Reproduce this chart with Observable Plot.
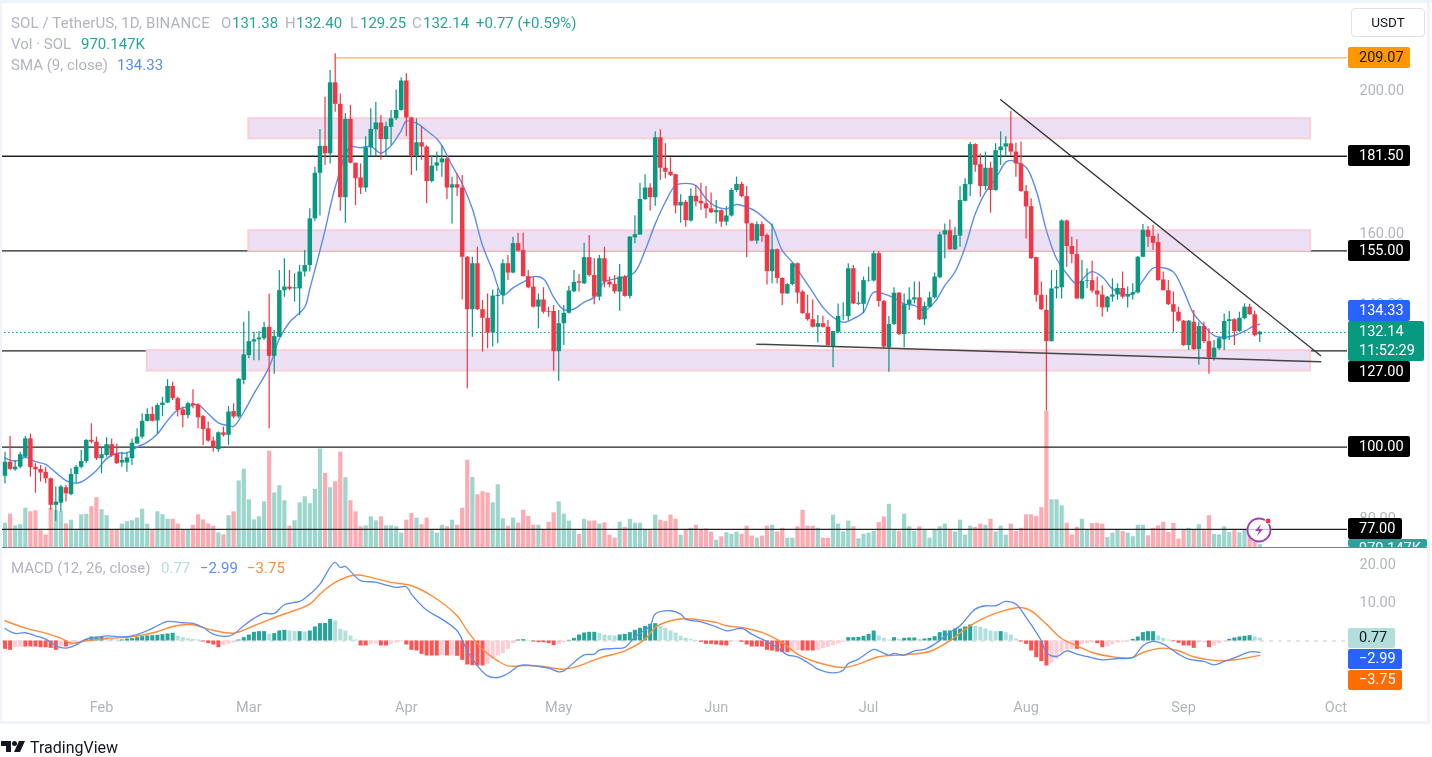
<!DOCTYPE html>
<html><head><meta charset="utf-8">
<script src="https://cdn.jsdelivr.net/npm/d3@7"></script>
<script src="https://cdn.jsdelivr.net/npm/@observablehq/plot@0.6"></script>
<style>
html,body{margin:0;padding:0;background:#fff}
#page{position:relative;width:1432px;height:757px;overflow:hidden;background:#fff;font-family:Roboto,sans-serif;filter:blur(.3px)}
.frame{position:absolute;background:#f0f3fa}
.t{position:absolute;white-space:nowrap;font-size:15px;line-height:18px}
.gray{color:#b2b5be}.green{color:#26a69a}.blue{color:#5b8dee}
.pl{position:absolute;left:1348px;width:62px;height:21px;border-radius:2px;color:#fff;font-size:14.5px;line-height:21px;padding-left:11px;box-sizing:border-box;white-space:nowrap;overflow:hidden}
</style></head><body>
<div id="page"></div>
<script>
const opens=[92.0,95.9,93.8,94.5,97.3,102.4,94.5,93.9,93.1,91.3,
83.9,84.5,88.8,86.9,92.5,94.5,96.1,102.0,101.5,96.9,
97.8,100.8,98.2,95.7,95.7,96.9,101.0,102.9,107.3,109.2,
107.4,111.7,112.4,117.0,113.6,110.5,108.9,112.2,111.9,108.6,
105.2,101.8,99.4,104.1,103.4,110.0,108.5,118.7,125.6,129.4,
130.0,130.3,133.5,125.4,130.7,143.7,144.7,144.2,144.2,148.9,
150.7,163.7,176.4,183.9,181.8,201.6,195.6,169.6,191.4,179.2,
175.1,172.3,183.5,188.5,190.4,185.8,189.2,191.6,193.9,202.1,
191.8,181.1,184.9,183.7,174.1,178.4,179.3,180.4,172.3,173.2,
172.3,153.0,138.4,151.2,138.4,136.0,131.9,142.1,142.4,151.2,
148.6,156.8,154.9,147.6,144.7,139.1,141.1,137.9,137.9,126.7,
134.5,137.4,143.4,146.2,145.6,152.9,147.9,141.9,152.6,146.1,
145.4,143.3,147.5,142.1,158.4,159.2,169.1,172.3,169.6,186.3,
177.8,176.7,176.0,167.3,168.3,163.1,170.0,168.6,167.9,166.5,
165.4,166.0,162.8,164.5,171.6,173.3,169.9,162.3,157.5,162.1,
159.1,149.0,155.1,147.1,142.8,145.4,151.2,143.3,137.3,135.6,
133.5,134.5,133.5,128.2,132.1,136.5,136.5,149.8,139.9,139.9,
146.4,146.4,154.0,140.7,127.8,134.3,143.0,131.5,139.8,141.1,
141.7,135.6,139.1,141.7,147.3,159.2,160.4,155.1,158.9,168.6,
173.2,184.4,178.8,172.7,177.8,171.6,182.7,183.7,184.6,182.3,
179.0,171.3,167.1,152.9,142.4,138.2,129.5,144.2,144.5,163.1,
156.0,153.8,141.4,146.3,146.5,143.6,142.5,138.9,141.9,142.5,
144.3,141.9,142.5,143.1,153.0,160.5,158.8,157.1,146.7,143.7,
139.8,137.7,135.2,128.4,134.9,127.3,133.7,129.5,125.0,127.5,
130.0,135.1,135.6,132.3,135.9,139.1,137.0,131.38];
const closes=[95.9,93.9,94.5,98.0,102.4,94.4,93.8,92.9,91.3,83.9,
84.8,89.0,87.1,92.5,94.5,96.1,102.0,101.5,96.9,98.0,
100.8,97.8,95.5,96.4,97.1,101.2,102.9,107.3,109.2,107.3,
111.7,112.4,117.0,113.6,110.3,108.9,112.2,111.7,108.3,105.0,
101.8,99.9,104.1,103.4,109.9,108.5,119.0,125.8,129.5,130.0,
130.5,133.4,125.4,130.9,143.7,144.7,144.1,144.5,148.9,150.7,
163.7,176.4,183.9,181.8,201.6,195.6,169.6,191.4,179.2,174.9,
172.3,183.5,188.6,190.4,185.8,189.4,191.6,193.9,202.1,191.8,
181.1,184.9,183.7,174.1,178.4,179.3,180.4,172.3,173.2,172.3,
153.0,138.4,151.2,138.4,136.0,131.9,142.2,142.4,151.2,148.6,
156.8,154.7,147.6,144.5,139.1,141.1,137.7,137.7,126.7,134.5,
137.4,143.6,146.0,145.8,152.9,147.9,141.9,152.6,146.1,145.3,
143.4,147.5,142.1,158.6,159.3,169.1,172.3,169.6,186.3,177.8,
176.7,175.8,167.3,168.3,163.2,170.0,168.4,167.9,166.5,165.4,
166.0,162.8,164.5,171.6,173.3,169.9,162.3,157.5,162.1,158.8,
149.0,155.1,147.1,142.8,145.4,151.2,143.0,137.3,135.6,133.5,
134.5,133.5,128.4,132.3,136.5,136.6,149.8,140.0,140.2,146.5,
146.5,154.0,140.7,128.0,134.3,143.0,131.5,139.8,141.1,141.7,
135.6,139.3,141.7,147.5,159.2,160.4,155.1,159.0,168.8,173.3,
184.4,178.6,172.7,177.8,171.6,182.7,183.7,184.6,182.3,179.0,
171.3,167.0,152.6,142.4,138.4,129.5,144.2,144.7,163.1,156.0,
153.8,141.4,146.3,146.5,143.6,142.5,138.9,141.9,142.5,144.3,
141.9,142.5,143.1,153.0,160.5,158.6,156.9,146.5,143.7,139.8,
137.7,135.2,128.4,135.2,127.3,133.7,129.5,125.0,127.7,130.3,
135.1,135.6,132.3,136.0,139.1,137.0,131.2,132.14];
const highs=[98.7,103.1,96.4,98.7,103.1,103.8,95.5,95.0,94.5,91.5,
89.0,89.4,89.4,94.1,95.0,99.2,102.2,106.6,102.9,100.1,
102.7,102.4,101.0,98.7,98.7,102.4,105.2,109.4,110.8,111.3,
112.2,114.0,118.9,118.2,114.0,111.3,112.6,116.1,112.2,108.9,
107.1,102.9,104.3,105.7,111.4,112.2,119.2,134.9,137.9,132.1,
132.3,134.9,142.8,132.6,149.3,152.6,149.3,148.4,150.7,154.9,
166.5,178.1,188.6,197.6,205.0,209.7,198.5,193.0,195.3,179.2,
179.0,186.6,194.4,196.2,192.5,190.6,193.9,199.6,203.0,204.1,
192.0,191.6,189.4,184.1,181.1,182.3,184.1,180.9,175.3,176.2,
175.8,153.2,153.0,155.8,141.0,142.8,143.9,144.2,152.3,153.5,
158.6,159.7,159.7,149.3,147.5,142.8,144.5,139.1,139.6,138.2,
139.6,144.9,149.3,148.2,156.9,159.1,152.6,153.5,155.8,147.5,
147.9,151.0,147.9,158.8,164.6,173.6,176.0,173.5,188.0,188.5,
184.6,180.7,176.1,170.4,168.8,172.1,173.0,173.6,172.7,170.9,
168.8,166.2,167.1,172.1,175.3,173.9,172.7,162.5,162.8,162.8,
159.5,162.3,155.3,147.3,145.6,151.4,151.4,143.7,142.4,141.1,
136.8,136.6,135.4,132.4,140.0,140.3,151.2,150.7,143.3,147.5,
150.2,154.7,154.6,141.0,136.5,144.5,143.2,142.8,144.5,146.1,
146.1,140.5,143.3,148.6,160.0,162.3,163.4,161.4,172.7,174.9,
185.0,184.6,181.8,182.3,179.5,184.6,188.0,186.6,193.7,184.8,
185.1,173.0,169.3,153.0,146.1,142.4,149.3,149.3,163.4,163.4,
158.6,157.9,152.1,149.8,151.9,147.5,145.1,142.1,147.0,145.6,
148.9,144.7,145.6,153.2,162.1,161.6,161.9,159.5,148.9,146.5,
143.3,139.1,135.4,135.4,138.2,134.9,134.9,133.1,129.8,130.7,
137.2,137.9,135.9,137.7,140.0,139.9,138.0,132.40];
const lows=[89.9,93.6,93.4,94.1,97.1,91.8,87.3,90.4,89.9,82.5,
79.5,82.0,84.8,86.6,89.9,94.1,95.5,101.0,96.4,92.7,
97.3,97.3,95.3,94.5,93.1,95.0,100.9,102.4,107.1,107.1,
103.8,108.6,112.2,113.1,108.5,105.5,108.0,110.8,105.2,100.6,
101.5,98.7,98.7,102.9,100.6,108.0,108.0,117.5,124.7,124.2,
124.2,129.8,105.2,120.4,130.7,141.9,143.7,140.5,136.8,147.5,
148.9,163.0,164.5,178.6,179.0,193.4,165.8,162.5,179.0,167.4,
170.5,171.1,180.9,180.9,180.0,180.9,184.1,191.1,193.7,186.6,
175.8,177.0,180.0,167.9,173.7,176.9,175.3,169.1,162.3,169.9,
141.1,116.4,130.7,138.2,126.6,127.5,128.0,128.9,139.8,146.5,
148.4,154.4,147.5,144.2,138.9,133.1,137.2,136.3,121.3,118.5,
128.4,137.2,143.1,143.3,145.4,147.5,139.8,140.8,144.5,144.5,
142.8,138.0,141.9,141.4,156.8,159.1,168.8,165.9,167.2,174.4,
174.9,175.5,165.1,162.5,161.4,162.8,167.0,166.0,163.7,165.1,
162.3,161.4,161.7,164.2,171.1,169.6,152.9,157.3,156.6,157.2,
145.3,145.6,145.6,139.6,142.6,145.1,140.0,137.1,135.2,133.3,
129.1,133.3,128.2,122.2,131.7,135.4,135.2,139.8,139.6,137.3,
146.1,146.1,139.1,127.5,121.0,134.0,131.2,127.8,138.2,140.0,
135.4,134.0,138.9,141.4,147.0,152.6,154.9,154.9,155.8,168.4,
169.9,176.7,169.7,171.6,165.3,171.4,178.6,180.9,181.1,175.3,
171.1,158.1,152.4,140.5,138.2,110.1,129.4,141.4,141.4,150.2,
151.2,141.2,141.1,144.2,143.0,139.1,136.3,137.7,140.5,141.0,
141.4,138.9,141.0,142.8,152.9,155.8,154.9,146.3,143.6,139.6,
132.1,134.9,128.2,127.0,127.0,122.9,128.9,120.4,124.1,127.0,
127.0,129.8,128.4,132.1,135.6,136.8,130.8,129.25];
const volumes=[8.1,11.1,7.2,7.6,13.1,11.9,12.2,5.6,4.2,13.1,
12.4,11.9,7.9,9.1,5.6,10.9,11.1,13.6,16.6,12.6,
10.6,5.8,5.8,7.8,8.6,8.9,9.8,12.8,7.8,5.6,
11.9,10.9,9.4,9.4,7.8,5.9,5.9,7.4,10.9,9.2,
7.8,7.1,4.9,4.2,10.6,11.9,22.2,26.1,15.9,9.2,
10.2,15.2,32.1,18.2,20.6,15.6,7.1,8.9,14.9,16.9,
14.6,19.4,32.8,24.7,19.9,21.9,31.8,23.3,15.6,11.9,
6.9,7.2,10.2,8.9,10.2,7.2,7.2,6.9,4.8,9.1,
11.3,9.8,7.6,9.8,5.6,4.8,7.4,6.9,9.1,7.4,
13.1,29.1,23.3,17.6,18.6,18.2,14.9,20.9,9.6,7.1,
9.8,8.1,12.4,10.4,7.4,7.4,5.9,8.4,11.6,15.2,
11.1,8.8,5.6,4.4,9.4,8.8,8.8,7.8,8.2,4.1,
3.1,8.4,6.7,9.4,8.1,8.1,5.8,5.6,10.8,9.1,
8.7,10.8,9.4,4.1,5.8,6.4,7.4,5.8,6.2,5.1,
2.4,3.6,4.9,4.4,5.1,4.4,7.1,3.8,3.1,3.8,
7.1,7.4,5.2,6.4,3.1,3.1,6.9,12.4,7.1,7.1,
6.4,3.1,3.1,10.8,7.8,5.2,8.8,6.9,2.9,4.4,
4.8,5.4,8.3,10.2,14.4,5.6,5.4,11.1,6.9,5.4,
6.9,5.8,3.1,5.8,6.9,7.8,5.8,5.2,9.1,4.1,
7.1,6.7,7.8,7.4,9.4,5.2,7.1,4.1,7.8,5.4,
6.4,10.9,10.9,10.3,13.3,45.3,15.9,15.9,13.9,8.1,
4.2,6.7,9.4,5.8,8,8.1,7.8,3.3,4.8,5.8,
5.3,4.8,3.6,7.4,7.4,3.9,6.4,7.2,8.4,5,
8,2.8,5.8,6.4,5.8,7.6,5.6,10.6,4.4,4.2,
6.9,5,5.8,4.9,5.8,4.4,1.7,0.97];
const histogram=[-2.17,-2.43,-1.74,-1.56,-1.56,-1.56,-1.56,-1.74,-1.74,-1.91,
-2.43,-1.56,-1.56,-1.22,-.87,-.26,.43,1.04,1.04,1.04,
.87,.43,.26,.26,.52,.6,.87,1.13,1.3,1.39,
1.48,1.65,1.82,2.0,1.22,.87,.52,.35,.26,-.26,
-.69,-1.04,-1.74,-1.22,-.87,-.52,.26,.87,1.56,2.26,
2.43,2.43,1.74,1.91,2.6,2.78,2.6,2.43,2.43,2.34,
2.6,3.65,4.51,4.55,5.64,5.21,3.04,2.6,1.3,.26,
-1.3,-1.3,-.87,-.78,-1.3,-1.3,-.87,-.52,-.26,-1.04,
-2.43,-2.6,-3.47,-3.9,-3.9,-3.9,-3.82,-3.9,-3.82,-3.99,
-5.03,-6.25,-6.42,-6.51,-6.51,-6.08,-4.77,-3.9,-3.3,-2.17,
-.69,.26,.35,.17,-.26,-.43,-.43,-.69,-1.22,-.87,
-.43,.17,.69,1.56,2.08,2.26,2.26,1.91,1.56,1.39,
1.3,1.56,1.74,2.17,2.78,3.3,3.82,4.34,4.51,3.82,
3.3,2.6,2.08,1.22,.69,.35,.17,-.35,-.87,-.87,
-1.04,-1.22,-1.3,-.26,-.17,-.35,-1.04,-1.56,-1.56,-1.56,
-2.43,-2.6,-2.86,-3.04,-3.04,-2.78,-2.6,-2.6,-2.6,-2.6,
-2.43,-2.0,-1.65,-1.22,-.78,-.35,.87,.87,.95,1.22,
1.74,2.6,1.3,.69,.26,.87,.43,.69,.78,.78,
.43,.52,.69,1.13,2.17,2.6,2.6,3.12,3.12,3.65,
4.17,3.82,3.56,3.12,2.6,2.43,2.43,2.17,1.56,.52,
-.26,-.87,-2.6,-4.34,-5.38,-6.51,-5.73,-4.77,-3.04,-2.34,
-2.17,-2.17,-.87,-.69,-.52,-.69,-1.74,-1.56,-.95,-.52,
-.35,-.26,.43,1.04,2.17,2.43,2.43,1.3,.69,.26,
-.17,-.61,-1.3,-1.3,-1.91,-.52,-.35,-1.74,-1.3,-.69,
-.17,.43,.78,1.04,1.22,1.39,1.04,.77];
const smaDays=[0,2,4,6,8,10,12,14,15,18,20,22,24,26,28,30,32,34,36,38,40,42,44,45,47,49,52,54,56,59,60,62,63,65,68,70,72,74,76,78,79,81,83,85,86,88,90,92,94,96,98,100,102,104,106,108,110,112,114,116,118,120,122,124,126,128,130,132,134,136,138,140,142,144,146,148,150,151,153,155,157,159,161,163,165,167,169,171,173,175,177,179,181,183,185,187,189,191,193,195,197,198,199,201,203,205,207,209,211,213,214,216,218,220,222,224,226,228,230,232,234,236,238,240,242,244,246,247];
const smaValues=[97.1,96.2,97.3,96.1,95.3,93.0,90.8,90.1,90.4,93.6,96.9,98.4,98.5,100.1,101.5,103.8,107.5,110.5,111.4,111.9,109.4,106.9,106.1,105.9,109.9,115.0,122.4,130.3,134.9,139.1,144.2,154.9,160.5,172.5,183.7,183.5,183.9,182.0,184.1,188.3,190.9,190.4,188.3,186.0,184.1,178.6,173.5,166.5,156.3,149.3,142.4,144.5,146.1,147.6,147.0,141.9,138.4,138.6,140.5,141.9,146.1,147.0,147.5,148.9,154.9,162.3,168.4,173.0,173.6,173.0,169.3,167.1,166.5,167.7,167.0,165.6,163.2,161.9,154.9,151.6,147.5,143.3,139.1,136.3,134.9,135.9,137.7,143.3,142.8,141.7,140.0,139.6,138.2,140.5,145.1,148.9,155.8,165.1,171.1,174.9,179.5,180.0,179.5,178.1,171.6,160.5,152.6,148.4,145.6,148.2,149.0,147.5,144.2,142.8,142.8,146.5,150.0,150.1,148.9,143.7,137.2,134.0,131.2,130.7,131.2,132.4,134.0,134.33];
const macdDays=[0,2,4,6,8,10,12,14,16,18,20,23,25,28,30,32,35,37,39,41,44,45,47,49,51,53,55,58,59,62,64,65,66,67,68,70,73,75,77,79,80,83,86,89,91,93,95,97,99,101,102,105,107,109,110,112,114,116,117,120,122,124,127,128,131,133,134,137,140,142,145,147,149,152,154,156,159,160,163,165,166,168,171,172,174,175,177,179,181,183,186,188,191,193,195,197,199,201,204,205,207,209,211,213,216,219,222,224,226,228,231,233,236,238,240,243,245,247];
const macdValues=[3.26,1.96,2.14,1.35,.49,-1.25,-1.86,-.99,.49,.92,1.35,1.09,1.35,2.66,3.96,5.09,4.74,4.57,3.52,1.79,1.27,1.79,3.96,5.87,7.17,7.17,9.43,10.3,11.08,14.81,19.15,20.45,19.15,19.41,18.11,15.68,15.33,14.55,13.94,14.11,12.2,8.04,5.69,2.66,-2.55,-6.46,-9.06,-9.5,-8.45,-6.55,-6.2,-6.63,-7.07,-8.02,-7.76,-5.59,-3.59,-3.42,-2.38,-1.94,-1.68,1.09,3.96,7.0,7.86,7.0,5.69,5.0,3.7,2.66,3.26,1.79,.49,-1.68,-3.59,-4.11,-6.46,-7.33,-8.28,-7.59,-5.85,-4.72,-2.2,-2.55,-3.68,-3.25,-3.68,-2.55,-2.2,-.82,2.22,3.96,8.3,9.17,9.17,10.3,9.6,6.13,.05,-2.99,-4.03,-2.55,-3.42,-4.03,-4.9,-4.55,-4.29,-1.25,-.12,-.82,-3.42,-4.72,-5.32,-6.2,-5.32,-3.85,-2.81,-2.99];
const signalDays=[0,4,8,11,13,16,20,25,30,33,37,40,45,49,54,60,62,65,69,72,76,80,84,89,91,94,97,99,103,106,110,113,117,122,126,128,131,134,137,140,142,145,149,153,156,160,165,168,172,177,182,186,189,193,197,200,202,205,208,211,214,218,222,224,228,231,234,239,243,247];
const signalValues=[5.26,3.35,2.05,.75,-.56,.05,.66,1.09,2.4,3.78,4.22,3.09,2.05,3.96,6.56,9.6,12.2,15.24,17.15,16.55,15.24,14.38,11.77,6.56,2.66,-2.12,-5.16,-6.46,-6.37,-6.63,-7.33,-6.46,-4.46,-2.55,.49,3.52,5.26,5.78,5.43,4.83,3.96,3.52,2.22,-.38,-3.42,-5.59,-6.89,-6.02,-4.11,-3.59,-2.73,.05,3.09,6.13,8.04,8.73,7.86,4.39,.66,-1.25,-2.99,-4.11,-4.29,-2.99,-1.86,-2.55,-4.11,-5.16,-4.72,-3.75];
const monthStarts=["2024-02-01","2024-03-01","2024-04-01","2024-05-01","2024-06-01","2024-07-01","2024-08-01","2024-09-01","2024-10-01"];
const keyLevels=[181.50,155.00,127.00,100.00,77.00];
const zoneStarts=["2024-03-01","2024-03-01","2024-02-10"];
const zoneEnd="2024-09-26";
const zoneTops=[191.6,160.4,127.0];
const zoneBottoms=[186.0,154.7,121.3];
const resistanceDates=["2024-07-27","2024-09-28"];
const resistancePrices=[196.9,125.6];
const supportDates=["2024-06-09","2024-09-28"];
const supportPrices=[128.8,123.9];
const highPrice=209.07, lastPrice=132.14;

// the series above were read against a slightly tighter ruler than the labelled levels; this aligns them
const cal=p=>99.902+1.0056*(p-100);
const DAY=864e5, T0=Date.UTC(2024,0,13);
const dayDate=i=>new Date(T0+i*DAY);
const pxPerDay=5.08, paneW=1347, xStart=-4.5/pxPerDay;
const xEnd=dayDate(xStart+paneW/pxPerDay);
const xScale={type:"utc",domain:[dayDate(xStart),xEnd]};
const GREEN="#089981",RED="#f23645";
const candles=opens.map((o,i)=>({date:dayDate(i),open:cal(o),close:cal(closes[i]),high:cal(highs[i]),low:cal(lows[i]),vol:volumes[i],hist:histogram[i],up:closes[i]>=o}));
const histColor=(d,i)=>{const p=i?histogram[i-1]:d.hist;return d.hist>=0?(d.hist>=p?"#26a69a":"#b2dfdb"):(d.hist<=p?"#ff5252":"#ffcdd2");};
const zones=zoneStarts.map((s,i)=>({x1:new Date(s),x2:new Date(zoneEnd),y1:cal(zoneBottoms[i]),y2:cal(zoneTops[i])}));
const seg=(ds,ps)=>ds.map((d,i)=>({date:new Date(d),price:cal(ps[i])}));
const series=(ds,vs)=>ds.map((d,i)=>({date:dayDate(d),value:vs[i]}));
const page=document.getElementById("page");
const common={width:1432,marginLeft:0,marginRight:85,marginTop:0,style:{fontFamily:"Roboto,sans-serif",fontSize:"14.5px",background:"transparent",position:"absolute",left:"0px",overflow:"visible"}};

const volPlot=Plot.plot({...common,height:547,marginBottom:0,x:{...xScale,axis:null},y:{domain:[0,547/3],axis:null},color:{type:"identity"},
 marks:[Plot.ruleX(candles,{x:"date",y1:0,y2:"vol",strokeWidth:4.2,stroke:d=>d.up?"#9cd6cc":"#fbabb1"})]});
volPlot.style.top="0px";page.append(volPlot);

const pricePlot=Plot.plot({...common,height:547,marginBottom:0,x:{...xScale,axis:null},y:{domain:[71.9,225.13],axis:null},color:{type:"identity"},
 marks:[
  Plot.axisY({anchor:"right",ticks:[80,140,160,200],tickSize:0,tickPadding:12,tickFormat:d=>d.toFixed(2),fill:"#b2b5be",label:null}),
  Plot.ruleY(keyLevels,{stroke:"#222",strokeWidth:1.3}),
  Plot.ruleY([lastPrice],{stroke:"#089981",strokeDasharray:"1.5 2.5",strokeWidth:1}),
  Plot.ruleY([highPrice],{x1:dayDate(65),x2:xEnd,stroke:"#f7a11f",strokeWidth:1}),
  Plot.rect(zones,{x1:"x1",x2:"x2",y1:"y1",y2:"y2",fill:"#eee0f4",stroke:"#fbd0d5",strokeWidth:2,inset:0}),
  Plot.line(series(smaDays,smaValues.map(cal)),{x:"date",y:"value",stroke:"#5b8dee",strokeWidth:1.4,curve:"catmull-rom"}),
  Plot.ruleX(candles,{x:"date",y1:"low",y2:"high",stroke:d=>d.up?"#089981":"#f23645",strokeWidth:1.2}),
  Plot.ruleX(candles,{x:"date",y1:"open",y2:"close",stroke:d=>d.up?GREEN:RED,strokeWidth:4.5}),
  Plot.line(seg(resistanceDates,resistancePrices),{x:"date",y:"price",stroke:"#333",strokeWidth:1.3}),
  Plot.line(seg(supportDates,supportPrices),{x:"date",y:"price",stroke:"#444",strokeWidth:1.5})
 ]});
pricePlot.style.top="0px";page.append(pricePlot);

const macdPlot=Plot.plot({...common,height:174,marginBottom:30,x:{...xScale,axis:null},y:{domain:[-13.4,24.06],axis:null},color:{type:"identity"},
 marks:[
  Plot.axisY({anchor:"right",ticks:[10,20],tickSize:0,tickPadding:12,tickFormat:d=>d.toFixed(2),fill:"#b2b5be",label:null}),
  Plot.axisX({anchor:"bottom",ticks:monthStarts.map(d=>new Date(d)),tickFormat:d3.utcFormat("%b"),tickSize:0,tickPadding:9,fill:"#b2b5be",label:null}),
  Plot.ruleY([0],{stroke:"#c9cbd1",strokeDasharray:"4 5",strokeWidth:1}),
  Plot.ruleX(candles,{x:"date",y1:0,y2:"hist",stroke:histColor,strokeWidth:4}),
  Plot.line(series(signalDays,signalValues),{x:"date",y:"value",stroke:"#ff8c3a",strokeWidth:1.4,curve:"catmull-rom"}),
  Plot.line(series(macdDays,macdValues),{x:"date",y:"value",stroke:"#5b8dee",strokeWidth:1.3,curve:"catmull-rom"})
 ]});
macdPlot.style.top="548px";page.append(macdPlot);

// pane separators and frame
[[0,0,1432,3],[0,0,2,724],[1427,0,3,724],[0,721,1430,3]].forEach(([l,t,w,h])=>{const d=document.createElement("div");d.className="frame";d.style.cssText=`left:${l}px;top:${t}px;width:${w}px;height:${h}px`;page.append(d);});
const sep=document.createElement("div");sep.style.cssText="position:absolute;left:2px;top:546.5px;width:1425px;height:1.5px;background:#7d7f86";page.append(sep);

// price labels, placed with the plot's own y scale
const yP=pricePlot.scale("y");
function label(text,center,bg,color,extra=""){const d=document.createElement("div");d.className="pl";d.textContent=text;d.style.cssText=`top:${center-10.5}px;background:${bg};color:${color};${extra}`;page.append(d);return d;}
label("209.07",yP.apply(highPrice),"#ff9800","#131722");
label("181.50",yP.apply(181.5),"#000","#fff");
label("155.00",yP.apply(155),"#000","#fff");
label("100.00",yP.apply(100),"#000","#fff");
label("77.00",yP.apply(77),"#000","#fff","width:54px");
label("127.00",371,"#000","#fff");
label("134.33",310,"#2962ff","#fff");
const g=label("",341,"#089981","#fff","width:76px;height:40px;line-height:19px;padding-top:1px");g.innerHTML="132.14<br>11:52:29";g.style.top="321px";
const vl=label("970.147K",0,"#26a69a","#fff","width:79px");vl.style.cssText+=";top:539px;height:8px;line-height:20px;overflow:hidden";
const ml=(t,c,bg,col,w)=>label(t,c,bg,col,`width:${w}px;height:20px;line-height:20px`);
ml("0.77",638,"#b2dfdb","#131722",47);
ml("\u22122.99",659,"#2962ff","#fff",54);
ml("\u22123.75",680,"#ff6d00","#fff",54);

// text legends
function t(txt,l,y,cls){const d=document.createElement("div");d.className="t "+cls;d.textContent=txt;d.style.left=l+"px";d.style.top=(y-8)+"px";page.append(d);return d;}
t("SOL / TetherUS, 1D, BINANCE",11,22,"gray").style.letterSpacing=".12px";
t("O",221,22,"gray");t("131.38",232,22,"green");
t("H",285,22,"gray");t("132.40",296,22,"green");
t("L",350,22,"gray");t("129.25",360,22,"green");
t("C",412,22,"gray");t("132.14",423,22,"green");
t("+0.77 (+0.59%)",476,22,"green");
t("Vol \u00b7 SOL",11,43,"gray");t("970.147K",81,43,"green");
t("SMA (9, close)",11,64,"gray");t("134.33",117,64,"blue");
t("MACD (12, 26, close)",11,567,"gray");t("0.77",161,567,"").style.color="#b2dfdb";
t("\u22122.99",200,567,"blue");t("\u22123.75",247,567,"").style.color="#ff8c3a";

// USDT button
const u=document.createElement("div");u.style.cssText="position:absolute;left:1351px;top:8px;width:74px;height:29px;border:1px solid #e0e3eb;border-radius:4px;box-sizing:border-box;background:#fff;color:#131722;font-size:13.5px;line-height:27px;text-align:center";u.textContent="USDT";page.append(u);

// TradingView mark and word
const tv=document.createElement("div");tv.style.cssText="position:absolute;left:1px;top:740px;height:15px";
tv.innerHTML='<svg width="26" height="14" style="position:absolute;left:0;top:0"><path d="M0 1h10v11H5V6H0z" fill="#131722"/><circle cx="13.5" cy="3.5" r="2.5" fill="#131722"/><path d="M18 1h6l-5 11h-6z" fill="#131722"/></svg><span style="position:absolute;left:29px;top:-2px;font-size:16px;color:#131722;white-space:nowrap">TradingView</span>';
page.append(tv);

// bolt badge
const b=document.createElement("div");b.style.cssText="position:absolute;left:1246px;top:515px;width:28px;height:28px";
b.innerHTML='<svg width="28" height="28"><circle cx="13" cy="15" r="11.5" fill="rgba(255,255,255,.75)" stroke="#a23bb8" stroke-width="1.8"/><path d="M15 9l-6 7h4l-2 5 6-7h-4z" fill="#a23bb8"/><circle cx="22" cy="6" r="3" fill="#f23645" stroke="#fff"/></svg>';
page.append(b);
</script>
</body></html>
